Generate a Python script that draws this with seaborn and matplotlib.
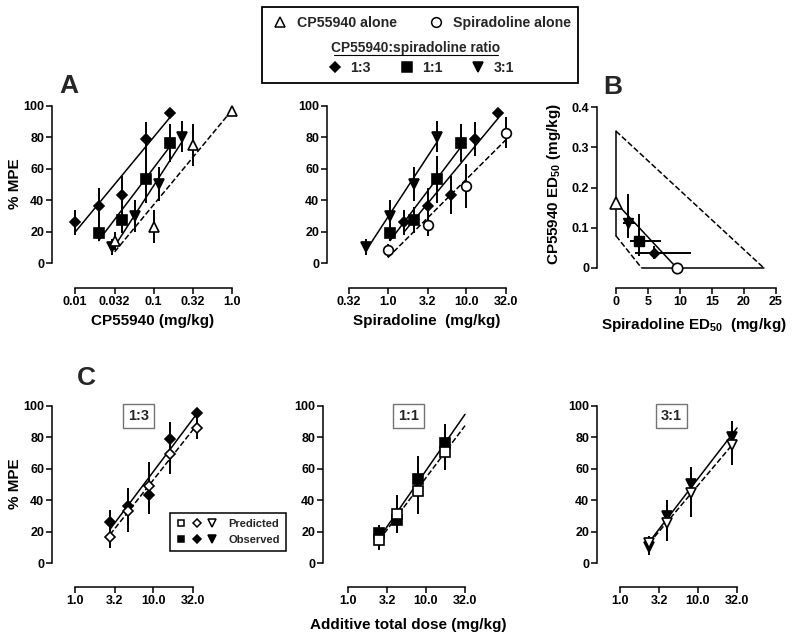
import matplotlib.pyplot as plt
import numpy as np
import seaborn as sns
from matplotlib.legend_handler import HandlerTuple
from matplotlib.lines import Line2D
from matplotlib.patches import Rectangle
from matplotlib.ticker import NullLocator

sns.set_theme(style="ticks")
plt.rcParams["font.family"] = ["Liberation Sans", "DejaVu Sans"]
plt.rcParams["font.weight"] = "bold"
plt.rcParams["axes.labelweight"] = "bold"
plt.rcParams["mathtext.fontset"] = "custom"
plt.rcParams["mathtext.bf"] = "Liberation Sans:bold"
plt.rcParams["mathtext.rm"] = "Liberation Sans:bold"
plt.rcParams["mathtext.default"] = "bf"

W, H = 800, 644

# ---- panel A: dose-effect data (%MPE +/- SEM) ----
cp_alone_dose = [0.032, 0.1, 0.32, 1.0]
cp_alone_mpe = [14, 23, 75, 97]
cp_alone_sem = [6, 10.5, 13.5, 0]

spir_alone_dose = [1.0, 3.2, 10.0, 32.0]
spir_alone_mpe = [8, 24, 49, 83]
spir_alone_sem = [4, 7, 14, 10]

mix13_cp = [0.01, 0.02, 0.04, 0.08, 0.16]
mix13_spir = [1.6, 3.2, 6.4, 12.8, 25.6]
mix13_mpe = [26, 36, 43.5, 79, 95.5]
mix13_sem = [8, 12, 12, 11, 0]

mix11_cp = [0.02, 0.04, 0.08, 0.16]
mix11_spir = [1.07, 2.13, 4.27, 8.53]
mix11_mpe = [19, 27.4, 53.3, 76.6]
mix11_sem = [5, 8, 15, 12]

mix31_cp = [0.03, 0.058, 0.117, 0.233]
mix31_spir = [0.53, 1.07, 2.13, 4.27]
mix31_mpe = [10.4, 30, 50.3, 80.5]
mix31_sem = [5, 10, 11, 10]

# ---- panel B: isobologram ----
cp_ed50 = 0.162
cp_ed50_ci = [0.08, 0.34]
spir_ed50 = 9.5
spir_ed50_ci = [4.0, 23.1]
mix_labels = ["1:3", "1:1", "3:1"]
mix_ed50_spir = [5.9, 3.6, 1.9]
mix_ed50_spir_lo = [3.0, 2.2, 1.15]
mix_ed50_spir_hi = [11.7, 7.1, 2.97]
mix_ed50_cp = [0.037, 0.067, 0.1125]
mix_ed50_cp_lo = [0.022, 0.03, 0.075]
mix_ed50_cp_hi = [0.055, 0.133, 0.184]

# ---- panel C: additive total dose, predicted vs observed ----
tot13 = [2.8, 4.7, 8.8, 16.4, 35.6]
pred13_mpe = [16.8, 33, 49.2, 69.4, 85.8]
pred13_sem = [7, 13, 15, 13, 7]

tot11 = [2.53, 4.3, 7.9, 17.7]
pred11_mpe = [14.5, 31, 46, 71]
pred11_sem = [6, 12, 15, 12]

tot31 = [2.38, 3.98, 8.08, 28.0]
pred31_mpe = [12.5, 25.7, 44.4, 75.2]
pred31_sem = [5, 12, 15, 13]

mpe_ticks = [0, 20, 40, 60, 80, 100]
cp_ticks = [0.01, 0.032, 0.1, 0.32, 1.0]
cp_ticklabels = ["0.01", "0.032", "0.1", "0.32", "1.0"]
spir_ticks = [0.32, 1.0, 3.2, 10.0, 32.0]
spir_ticklabels = ["0.32", "1.0", "3.2", "10.0", "32.0"]
tot_ticks = [1.0, 3.2, 10.0, 32.0]
tot_ticklabels = ["1.0", "3.2", "10.0", "32.0"]
ed_x_ticks = [0, 5, 10, 15, 20, 25]
ed_y_ticks = [0, 0.1, 0.2, 0.3, 0.4]
ed_y_ticklabels = ["0", "0.1", "0.2", "0.3", "0.4"]

LW = 1.1
ERR_LW = 1.4
TICK_FS = 9
LABEL_FS = 11

fig = plt.figure(figsize=(W / 100, H / 100), dpi=100)


def _inv(p, ref, log):
    v0, p0, v1, p1 = ref
    t = (p - p0) / (p1 - p0)
    if log:
        return 10 ** (np.log10(v0) + t * (np.log10(v1) - np.log10(v0)))
    return v0 + t * (v1 - v0)


def make_panel(left, right, bottom, top, xref, yref, xlog):
    ax = fig.add_axes([left / W, 1 - bottom / H, (right - left) / W, (bottom - top) / H])
    ax.set_facecolor("none")
    ax._pxbox = (left, right, bottom, top, xref, yref, xlog)
    if xlog:
        ax.set_xscale("log")
    return ax


def finish(ax, xticks, xticklabels, yticks, yticklabels):
    left, right, bottom, top, xref, yref, xlog = ax._pxbox
    ax.set_xlim(_inv(left, xref, xlog), _inv(right, xref, xlog))
    ax.set_ylim(_inv(bottom, yref, False), _inv(top, yref, False))
    ax.set_xticks(xticks)
    ax.set_xticklabels(xticklabels)
    ax.set_yticks(yticks)
    ax.set_yticklabels(yticklabels)
    ax.xaxis.set_minor_locator(NullLocator())
    ax.spines[["top", "right"]].set_visible(False)
    for s in ("left", "bottom"):
        ax.spines[s].set_linewidth(LW)
        ax.spines[s].set_color("black")
    ax.spines["bottom"].set_bounds(xref[0], xref[2])
    ax.spines["left"].set_bounds(yref[0], yref[2])
    ax.tick_params(direction="out", length=4, width=LW, color="black",
                   labelsize=TICK_FS, pad=1.5, labelcolor="black")
    for t in ax.get_xticklabels() + ax.get_yticklabels():
        t.set_fontweight("bold")
    ax.grid(False)


def set_xlabel(ax, text, cx, ty):
    ax.set_xlabel(text, fontsize=LABEL_FS, fontweight="bold", color="black")
    ax.xaxis.set_label_coords(cx / W, 1 - ty / H, transform=fig.transFigure)


def set_ylabel(ax, text, rx, cy):
    ax.set_ylabel(text, fontsize=LABEL_FS, fontweight="bold", color="black")
    ax.yaxis.set_label_coords(rx / W, 1 - cy / H, transform=fig.transFigure)


def points(ax, x, y, yerr, marker, filled, ms, xerr=None):
    ax.errorbar(x, y, yerr=yerr, xerr=xerr, fmt="none", ecolor="black",
                elinewidth=ERR_LW, capsize=0, zorder=2, clip_on=False)
    ax.plot(x, y, ls="none", marker=marker, ms=ms,
            mfc="black" if filled else "white", mec="black", mew=1.2,
            zorder=4, clip_on=False)


def reg_line(ax, x, y, ls):
    sns.regplot(x=np.asarray(x), y=np.asarray(y), logx=True, ci=None,
                scatter=False, truncate=True, ax=ax,
                line_kws=dict(color="black", lw=LW, ls=ls, zorder=3))


def fit_line(ax, x, y, ls, x_end):
    slope, icpt = np.polyfit(np.log10(x), y, 1)
    xs = np.array([min(x), max(max(x), x_end)])
    sns.lineplot(x=xs, y=icpt + slope * np.log10(xs), ax=ax, color="black",
                 lw=LW, ls=ls, zorder=3, estimator=None, sort=False)


MS_D, MS_S, MS_T, MS_O = 5.2, 6.5, 6.8, 7.0

# ---------- A1: CP55940 axis ----------
a1 = make_panel(52, 240, 288, 100, (0.01, 75, 1.0, 232), (0, 263, 100, 106), True)
reg_line(a1, mix13_cp, mix13_mpe, "-")
reg_line(a1, mix11_cp, mix11_mpe, "-")
reg_line(a1, mix31_cp, mix31_mpe, "-")
reg_line(a1, cp_alone_dose, cp_alone_mpe, "--")
points(a1, mix13_cp, mix13_mpe, mix13_sem, "D", True, MS_D)
points(a1, mix11_cp, mix11_mpe, mix11_sem, "s", True, MS_S)
points(a1, mix31_cp, mix31_mpe, mix31_sem, "v", True, MS_T)
points(a1, cp_alone_dose, cp_alone_mpe, cp_alone_sem, "^", False, MS_T + 0.6)
finish(a1, cp_ticks, cp_ticklabels, mpe_ticks, [str(v) for v in mpe_ticks])
set_xlabel(a1, "CP55940 (mg/kg)", 153, 314)
set_ylabel(a1, "% MPE", 22, 184)

# ---------- A2: spiradoline axis ----------
a2 = make_panel(327, 512, 288, 100, (0.32, 349, 32, 506), (0, 263, 100, 106), True)
reg_line(a2, mix13_spir, mix13_mpe, "-")
reg_line(a2, mix11_spir, mix11_mpe, "-")
reg_line(a2, mix31_spir, mix31_mpe, "-")
reg_line(a2, spir_alone_dose, spir_alone_mpe, "--")
points(a2, mix13_spir, mix13_mpe, mix13_sem, "D", True, MS_D)
points(a2, mix11_spir, mix11_mpe, mix11_sem, "s", True, MS_S)
points(a2, mix31_spir, mix31_mpe, mix31_sem, "v", True, MS_T)
points(a2, spir_alone_dose, spir_alone_mpe, spir_alone_sem, "o", False, MS_O)
finish(a2, spir_ticks, spir_ticklabels, mpe_ticks, [str(v) for v in mpe_ticks])
set_xlabel(a2, "Spiradoline  (mg/kg)", 427, 314)

# ---------- B: isobologram ----------
b = make_panel(597, 782, 288, 100, (0, 616, 25, 776), (0, 268, 0.4, 107), False)
kw = dict(color="black", lw=LW, zorder=3, clip_on=False)
b.plot([0, 0], cp_ed50_ci, **kw)
b.plot(spir_ed50_ci, [0, 0], **kw)
b.plot([0, spir_ed50_ci[0]], [cp_ed50_ci[0], 0], ls="--", **kw)
b.plot([0, spir_ed50_ci[1]], [cp_ed50_ci[1], 0], ls="--", **kw)
b.plot([0, spir_ed50], [cp_ed50, 0], **kw)
xerr = [np.subtract(mix_ed50_spir, mix_ed50_spir_lo), np.subtract(mix_ed50_spir_hi, mix_ed50_spir)]
yerr = [np.subtract(mix_ed50_cp, mix_ed50_cp_lo), np.subtract(mix_ed50_cp_hi, mix_ed50_cp)]
b.errorbar(mix_ed50_spir, mix_ed50_cp, xerr=xerr, yerr=yerr, fmt="none",
           ecolor="black", elinewidth=ERR_LW, capsize=0, zorder=2)
for i, m in enumerate(["D", "s", "v"]):
    b.plot(mix_ed50_spir[i], mix_ed50_cp[i], ls="none", marker=m,
           ms=[MS_D + 0.3, MS_S + 0.5, MS_T + 0.4][i], mfc="black", mec="black", zorder=4)
b.plot(0, cp_ed50, ls="none", marker="^", ms=MS_T + 1.2, mfc="white", mec="black",
       mew=1.2, zorder=4, clip_on=False)
b.plot(spir_ed50, 0, ls="none", marker="o", ms=MS_O + 0.5, mfc="white", mec="black",
       mew=1.2, zorder=4, clip_on=False)
finish(b, ed_x_ticks, [str(v) for v in ed_x_ticks], ed_y_ticks, ed_y_ticklabels)
set_xlabel(b, "Spiradoline ED$_{50}$  (mg/kg)", 694, 316)
set_ylabel(b, "CP55940 ED$_{50}$ (mg/kg)", 563, 184)

# ---------- C: predicted vs observed ----------
c_specs = [
    (52, 203, (1, 75, 32, 193), tot13, mix13_mpe, mix13_sem, pred13_mpe, pred13_sem, "D", MS_D, 138.5, "1:3"),
    (323, 472, (1, 348, 32, 465), tot11, mix11_mpe, mix11_sem, pred11_mpe, pred11_sem, "s", MS_S, 408.5, "1:1"),
    (597, 745, (1, 620, 32, 737), tot31, mix31_mpe, mix31_sem, pred31_mpe, pred31_sem, "v", MS_T, 671.5, "3:1"),
]
c_axes = []
for left, right, xref, tot, obs, obs_sem, pred, pred_sem, mk_, ms, bx, lab in c_specs:
    ax = make_panel(left, right, 587, 400, xref, (0, 563, 100, 406), True)
    fit_line(ax, tot, obs, "-", 32)
    fit_line(ax, tot, pred, "--", 32)
    points(ax, tot, obs, obs_sem, mk_, True, ms)
    points(ax, tot, pred, pred_sem, mk_, False, ms + 0.4)
    finish(ax, tot_ticks, tot_ticklabels, mpe_ticks, [str(v) for v in mpe_ticks])
    fig.text(bx / W, 1 - 416 / H, lab, ha="center", va="center", fontsize=10.5,
             fontweight="bold",
             bbox=dict(boxstyle="square,pad=0.35", fc="white", ec="0.45", lw=1.0))
    c_axes.append(ax)

set_ylabel(c_axes[0], "% MPE", 22, 484)
set_xlabel(c_axes[1], "Additive total dose (mg/kg)", 408, 618)


def mk(marker, filled, ms):
    return Line2D([], [], ls="none", marker=marker, ms=ms,
                  mfc="black" if filled else "white", mec="black", mew=1.1)


pred_h = (mk("s", False, 4.8), mk("D", False, 3.8), mk("v", False, 5.2))
obs_h = (mk("s", True, 4.8), mk("D", True, 3.8), mk("v", True, 5.2))
leg = c_axes[0].legend([pred_h, obs_h], ["Predicted", "Observed"],
                       handler_map={tuple: HandlerTuple(ndivide=None, pad=0.5)},
                       handlelength=3.7, handletextpad=1.0, labelspacing=0.5,
                       borderpad=0.55, borderaxespad=0, fontsize=8, loc="upper left",
                       bbox_to_anchor=(170 / W, 1 - 513 / H),
                       bbox_transform=fig.transFigure, frameon=True,
                       fancybox=False, edgecolor="black", framealpha=1)
leg.get_frame().set_linewidth(1.1)
for t in leg.get_texts():
    t.set_fontweight("bold")

# ---------- top legend box ----------
fig.add_artist(Rectangle((262 / W, 1 - 83 / H), (578 - 262) / W, (83 - 7) / H,
                         transform=fig.transFigure, fill=False, ec="black", lw=1.3))
l1 = fig.legend([mk("^", False, 7.5), mk("o", False, 7)],
                ["CP55940 alone", "Spiradoline alone"], loc="center",
                bbox_to_anchor=(422 / W, 1 - 23 / H), ncol=2, frameon=False,
                fontsize=10.2, handlelength=1.0, handletextpad=0.65, columnspacing=2.3)
l2 = fig.legend([mk("D", True, 5.2), mk("s", True, 6.5), mk("v", True, 6.8)],
                mix_labels, loc="center", bbox_to_anchor=(421 / W, 1 - 68 / H),
                ncol=3, frameon=False, fontsize=10.2, handlelength=1.0,
                handletextpad=0.6, columnspacing=2.0)
for lg in (l1, l2):
    for t in lg.get_texts():
        t.set_fontweight("bold")
fig.text(416 / W, 1 - 48 / H, "CP55940:spiradoline ratio", ha="center", va="center",
         fontsize=9.9, fontweight="bold")
fig.add_artist(Line2D([334 / W, 498 / W], [1 - 55 / H, 1 - 55 / H],
                      transform=fig.transFigure, color="black", lw=0.8))

# ---------- panel letters ----------
for letter, x, y in [("A", 69, 86), ("B", 613, 87), ("C", 86, 378)]:
    fig.text(x / W, 1 - y / H, letter, ha="center", va="center", fontsize=19,
             fontweight="bold")

fig.savefig("out.png", dpi=100)
